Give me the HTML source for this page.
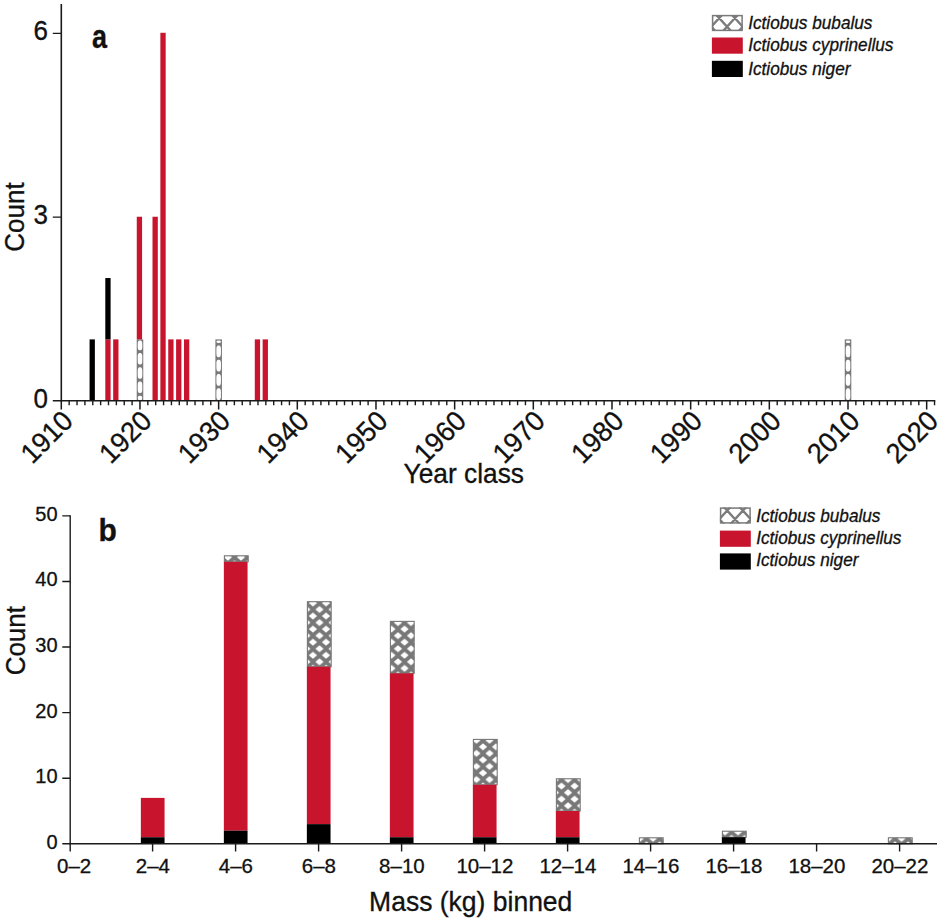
<!DOCTYPE html>
<html><head><meta charset="utf-8"><title>Ictiobus year class and mass</title>
<style>
html,body{margin:0;padding:0;background:#fff;}
body{width:941px;height:922px;overflow:hidden;font-family:"Liberation Sans",sans-serif;}
svg{display:block;}
svg text{font-family:"Liberation Sans",sans-serif;fill:#111;stroke:#111;stroke-width:0.3px;}
</style></head><body>

<svg width="941" height="922" viewBox="0 0 941 922">
<defs>
<pattern id="hb" patternUnits="userSpaceOnUse" width="13.08" height="13.08" x="312.96" y="602.96"><rect width="13.08" height="13.08" fill="#787878"/><path d="M6.54 2.99 L10.64 6.54 L6.54 10.09 L2.44 6.54 Z M0.00 -3.55 L4.10 0.00 L0.00 3.55 L-4.10 0.00 Z M13.08 -3.55 L17.18 0.00 L13.08 3.55 L8.98 0.00 Z M0.00 9.53 L4.10 13.08 L0.00 16.63 L-4.10 13.08 Z M13.08 9.53 L17.18 13.08 L13.08 16.63 L8.98 13.08 Z " fill="#fff"/></pattern>
</defs>
<rect width="941" height="922" fill="#fff"/>
<g id="chartA">
<rect x="89.57" y="339.38" width="5.3" height="61.32" fill="#000000"/>
<rect x="105.30" y="339.38" width="5.3" height="61.32" fill="#c8152d"/>
<rect x="105.30" y="278.06" width="5.3" height="61.32" fill="#000000"/>
<rect x="113.17" y="339.38" width="5.3" height="61.32" fill="#c8152d"/>
<rect x="136.72" y="339.38" width="6.55" height="61.32" fill="#7a7a7a"/><rect x="137.72" y="340.38" width="4.55" height="9.92" rx="1.9" ry="3.60" fill="#fff"/><rect x="137.72" y="352.90" width="4.55" height="11.65" rx="1.9" ry="3.60" fill="#fff"/><rect x="137.72" y="367.15" width="4.55" height="11.65" rx="1.9" ry="3.60" fill="#fff"/><rect x="137.72" y="381.40" width="4.55" height="11.65" rx="1.9" ry="3.60" fill="#fff"/><rect x="137.72" y="395.65" width="4.55" height="4.85" rx="1.9" ry="2.42" fill="#fff"/>
<rect x="136.77" y="216.74" width="5.3" height="122.64" fill="#c8152d"/>
<rect x="152.50" y="216.74" width="5.3" height="183.96" fill="#c8152d"/>
<rect x="160.37" y="32.78" width="5.3" height="367.92" fill="#c8152d"/>
<rect x="168.24" y="339.38" width="5.3" height="61.32" fill="#c8152d"/>
<rect x="176.10" y="339.38" width="5.3" height="61.32" fill="#c8152d"/>
<rect x="183.97" y="339.38" width="5.3" height="61.32" fill="#c8152d"/>
<rect x="215.39" y="339.38" width="6.55" height="61.32" fill="#7a7a7a"/><rect x="216.39" y="340.38" width="4.55" height="2.52" rx="1.9" ry="1.26" fill="#fff"/><rect x="216.39" y="345.50" width="4.55" height="11.65" rx="1.9" ry="3.60" fill="#fff"/><rect x="216.39" y="359.75" width="4.55" height="11.65" rx="1.9" ry="3.60" fill="#fff"/><rect x="216.39" y="374.00" width="4.55" height="11.65" rx="1.9" ry="3.60" fill="#fff"/><rect x="216.39" y="388.25" width="4.55" height="11.65" rx="1.9" ry="3.60" fill="#fff"/>
<rect x="254.78" y="339.38" width="5.3" height="61.32" fill="#c8152d"/>
<rect x="262.64" y="339.38" width="5.3" height="61.32" fill="#c8152d"/>
<rect x="844.75" y="339.38" width="6.55" height="61.32" fill="#7a7a7a"/><rect x="845.75" y="340.38" width="4.55" height="2.52" rx="1.9" ry="1.26" fill="#fff"/><rect x="845.75" y="345.50" width="4.55" height="11.65" rx="1.9" ry="3.60" fill="#fff"/><rect x="845.75" y="359.75" width="4.55" height="11.65" rx="1.9" ry="3.60" fill="#fff"/><rect x="845.75" y="374.00" width="4.55" height="11.65" rx="1.9" ry="3.60" fill="#fff"/><rect x="845.75" y="388.25" width="4.55" height="11.65" rx="1.9" ry="3.60" fill="#fff"/>
<path d="M61.3 4 V401.5" stroke="#1a1a1a" stroke-width="1.6" fill="none"/>
<path d="M52.8 400.8 H935.3" stroke="#1a1a1a" stroke-width="1.6" fill="none"/>
<path d="M52.8 217.10 H61.3 M52.8 33.40 H61.3 " stroke="#1a1a1a" stroke-width="1.4" fill="none"/>
<path d="M61.30 400.8 V409.4 M139.97 400.8 V409.4 M218.64 400.8 V409.4 M297.31 400.8 V409.4 M375.98 400.8 V409.4 M454.65 400.8 V409.4 M533.32 400.8 V409.4 M611.99 400.8 V409.4 M690.66 400.8 V409.4 M769.33 400.8 V409.4 M848.00 400.8 V409.4 M926.67 400.8 V409.4 " stroke="#1a1a1a" stroke-width="1.5" fill="none"/>
<path d="M69.17 400.8 V405.2 M77.03 400.8 V405.2 M84.90 400.8 V405.2 M92.77 400.8 V405.2 M100.63 400.8 V405.2 M108.50 400.8 V405.2 M116.37 400.8 V405.2 M124.24 400.8 V405.2 M132.10 400.8 V405.2 M147.84 400.8 V405.2 M155.70 400.8 V405.2 M163.57 400.8 V405.2 M171.44 400.8 V405.2 M179.31 400.8 V405.2 M187.17 400.8 V405.2 M195.04 400.8 V405.2 M202.91 400.8 V405.2 M210.77 400.8 V405.2 M226.51 400.8 V405.2 M234.37 400.8 V405.2 M242.24 400.8 V405.2 M250.11 400.8 V405.2 M257.98 400.8 V405.2 M265.84 400.8 V405.2 M273.71 400.8 V405.2 M281.58 400.8 V405.2 M289.44 400.8 V405.2 M305.18 400.8 V405.2 M313.04 400.8 V405.2 M320.91 400.8 V405.2 M328.78 400.8 V405.2 M336.65 400.8 V405.2 M344.51 400.8 V405.2 M352.38 400.8 V405.2 M360.25 400.8 V405.2 M368.11 400.8 V405.2 M383.85 400.8 V405.2 M391.71 400.8 V405.2 M399.58 400.8 V405.2 M407.45 400.8 V405.2 M415.31 400.8 V405.2 M423.18 400.8 V405.2 M431.05 400.8 V405.2 M438.92 400.8 V405.2 M446.78 400.8 V405.2 M462.52 400.8 V405.2 M470.38 400.8 V405.2 M478.25 400.8 V405.2 M486.12 400.8 V405.2 M493.99 400.8 V405.2 M501.85 400.8 V405.2 M509.72 400.8 V405.2 M517.59 400.8 V405.2 M525.45 400.8 V405.2 M541.19 400.8 V405.2 M549.05 400.8 V405.2 M556.92 400.8 V405.2 M564.79 400.8 V405.2 M572.65 400.8 V405.2 M580.52 400.8 V405.2 M588.39 400.8 V405.2 M596.26 400.8 V405.2 M604.12 400.8 V405.2 M619.86 400.8 V405.2 M627.72 400.8 V405.2 M635.59 400.8 V405.2 M643.46 400.8 V405.2 M651.32 400.8 V405.2 M659.19 400.8 V405.2 M667.06 400.8 V405.2 M674.93 400.8 V405.2 M682.79 400.8 V405.2 M698.53 400.8 V405.2 M706.39 400.8 V405.2 M714.26 400.8 V405.2 M722.13 400.8 V405.2 M730.00 400.8 V405.2 M737.86 400.8 V405.2 M745.73 400.8 V405.2 M753.60 400.8 V405.2 M761.46 400.8 V405.2 M777.20 400.8 V405.2 M785.06 400.8 V405.2 M792.93 400.8 V405.2 M800.80 400.8 V405.2 M808.66 400.8 V405.2 M816.53 400.8 V405.2 M824.40 400.8 V405.2 M832.27 400.8 V405.2 M840.13 400.8 V405.2 M855.87 400.8 V405.2 M863.73 400.8 V405.2 M871.60 400.8 V405.2 M879.47 400.8 V405.2 M887.33 400.8 V405.2 M895.20 400.8 V405.2 M903.07 400.8 V405.2 M910.94 400.8 V405.2 M918.80 400.8 V405.2 M934.54 400.8 V405.2 " stroke="#1a1a1a" stroke-width="1.4" fill="none"/>
<text transform="translate(47.90 407.50) scale(1.0 1.07)" font-size="26" text-anchor="end">0</text>
<text transform="translate(47.90 223.80) scale(1.0 1.07)" font-size="26" text-anchor="end">3</text>
<text transform="translate(47.90 40.10) scale(1.0 1.07)" font-size="26" text-anchor="end">6</text>
<text transform="translate(74.60 422.60) rotate(-45) scale(1.0 1.04)" font-size="27" text-anchor="end">1910</text>
<text transform="translate(153.27 422.60) rotate(-45) scale(1.0 1.04)" font-size="27" text-anchor="end">1920</text>
<text transform="translate(231.94 422.60) rotate(-45) scale(1.0 1.04)" font-size="27" text-anchor="end">1930</text>
<text transform="translate(310.61 422.60) rotate(-45) scale(1.0 1.04)" font-size="27" text-anchor="end">1940</text>
<text transform="translate(389.28 422.60) rotate(-45) scale(1.0 1.04)" font-size="27" text-anchor="end">1950</text>
<text transform="translate(467.95 422.60) rotate(-45) scale(1.0 1.04)" font-size="27" text-anchor="end">1960</text>
<text transform="translate(546.62 422.60) rotate(-45) scale(1.0 1.04)" font-size="27" text-anchor="end">1970</text>
<text transform="translate(625.29 422.60) rotate(-45) scale(1.0 1.04)" font-size="27" text-anchor="end">1980</text>
<text transform="translate(703.96 422.60) rotate(-45) scale(1.0 1.04)" font-size="27" text-anchor="end">1990</text>
<text transform="translate(782.63 422.60) rotate(-45) scale(1.0 1.04)" font-size="27" text-anchor="end">2000</text>
<text transform="translate(861.30 422.60) rotate(-45) scale(1.0 1.04)" font-size="27" text-anchor="end">2010</text>
<text transform="translate(939.97 422.60) rotate(-45) scale(1.0 1.04)" font-size="27" text-anchor="end">2020</text>
<text transform="translate(24.20 217.00) rotate(-90) scale(1.0 1.05)" font-size="26" text-anchor="middle">Count</text>
<text transform="translate(463.75 482.80) scale(1.012 1.05)" font-size="26" text-anchor="middle">Year class</text>
<text transform="translate(92.10 47.60) scale(0.9 1.094)" font-size="30" text-anchor="start" font-weight="bold">a</text>
<g><clipPath id="cp1"><rect x="711.9" y="14.9" width="30.9" height="16.2"/></clipPath><rect x="711.9" y="14.9" width="30.9" height="16.2" fill="#fff"/><path d="M689.20 -14.77 L749.20 50.97 M689.20 50.97 L749.20 -14.77 M704.90 -14.77 L764.90 50.97 M704.90 50.97 L764.90 -14.77 M697.05 -6.17 L757.05 59.57 M697.05 59.57 L757.05 -6.17 M681.35 -6.17 L741.35 59.57 M681.35 59.57 L741.35 -6.17 M712.75 -6.17 L772.75 59.57 M712.75 59.57 L772.75 -6.17 " stroke="#7c7c7c" stroke-width="2.4" fill="none" clip-path="url(#cp1)"/><rect x="712.6" y="15.6" width="29.5" height="14.799999999999999" fill="none" stroke="#7a7a7a" stroke-width="1.5"/></g>
<rect x="711.9" y="37.5" width="30.9" height="16.2" fill="#c8152d"/>
<rect x="711.9" y="60.8" width="30.9" height="16.2" fill="#000000"/>
<text transform="translate(748.20 28.60) scale(1.012 1.03)" font-size="17" text-anchor="start" font-style="italic" stroke-width="0.12">Ictiobus bubalus</text>
<text transform="translate(748.20 51.30) scale(1.012 1.03)" font-size="17" text-anchor="start" font-style="italic" stroke-width="0.12">Ictiobus cyprinellus</text>
<text transform="translate(748.20 74.60) scale(1.012 1.03)" font-size="17" text-anchor="start" font-style="italic" stroke-width="0.12">Ictiobus niger</text>
</g>
<g id="chartB">
<rect x="140.85" y="797.89" width="23.7" height="39.35" fill="#c8152d"/>
<rect x="140.85" y="837.24" width="23.7" height="6.56" fill="#000000"/>
<rect x="224.40" y="555.80" width="23.80" height="6.01" fill="url(#hb)" stroke="#787878" stroke-width="1.1"/>
<rect x="223.85" y="561.81" width="23.7" height="268.88" fill="#c8152d"/>
<rect x="223.85" y="830.68" width="23.7" height="13.12" fill="#000000"/>
<rect x="307.40" y="601.70" width="23.80" height="65.03" fill="url(#hb)" stroke="#787878" stroke-width="1.1"/>
<rect x="306.85" y="666.73" width="23.7" height="157.39" fill="#c8152d"/>
<rect x="306.85" y="824.13" width="23.7" height="19.67" fill="#000000"/>
<rect x="390.40" y="621.38" width="23.80" height="51.91" fill="url(#hb)" stroke="#787878" stroke-width="1.1"/>
<rect x="389.85" y="673.29" width="23.7" height="163.95" fill="#c8152d"/>
<rect x="389.85" y="837.24" width="23.7" height="6.56" fill="#000000"/>
<rect x="473.40" y="739.42" width="23.80" height="45.36" fill="url(#hb)" stroke="#787878" stroke-width="1.1"/>
<rect x="472.85" y="784.78" width="23.7" height="52.46" fill="#c8152d"/>
<rect x="472.85" y="837.24" width="23.7" height="6.56" fill="#000000"/>
<rect x="556.40" y="778.77" width="23.80" height="32.24" fill="url(#hb)" stroke="#787878" stroke-width="1.1"/>
<rect x="555.85" y="811.01" width="23.7" height="26.23" fill="#c8152d"/>
<rect x="555.85" y="837.24" width="23.7" height="6.56" fill="#000000"/>
<rect x="639.40" y="837.79" width="23.80" height="6.01" fill="url(#hb)" stroke="#787878" stroke-width="1.1"/>
<rect x="722.40" y="831.23" width="23.80" height="6.01" fill="url(#hb)" stroke="#787878" stroke-width="1.1"/>
<rect x="721.85" y="837.24" width="23.7" height="6.56" fill="#000000"/>
<rect x="888.40" y="837.79" width="23.80" height="6.01" fill="url(#hb)" stroke="#787878" stroke-width="1.1"/>
<path d="M70.2 515.20 V844.5" stroke="#1a1a1a" stroke-width="1.4" fill="none"/>
<path d="M62.3 843.8 H937" stroke="#1a1a1a" stroke-width="1.5" fill="none"/>
<path d="M62.3 778.22 H70.2 M62.3 712.64 H70.2 M62.3 647.06 H70.2 M62.3 581.48 H70.2 M62.3 515.90 H70.2 " stroke="#1a1a1a" stroke-width="1.4" fill="none"/>
<path d="M70.20 843.8 V851.5 M152.60 843.8 V851.5 M235.60 843.8 V851.5 M318.60 843.8 V851.5 M401.60 843.8 V851.5 M484.60 843.8 V851.5 M567.60 843.8 V851.5 M650.60 843.8 V851.5 M733.60 843.8 V851.5 M816.60 843.8 V851.5 M899.60 843.8 V851.5 " stroke="#1a1a1a" stroke-width="1.4" fill="none"/>
<text x="57.6" y="848.80" font-size="20" text-anchor="end">0</text>
<text x="57.6" y="783.22" font-size="20" text-anchor="end">10</text>
<text x="57.6" y="717.64" font-size="20" text-anchor="end">20</text>
<text x="57.6" y="652.06" font-size="20" text-anchor="end">30</text>
<text x="57.6" y="586.48" font-size="20" text-anchor="end">40</text>
<text x="57.6" y="520.90" font-size="20" text-anchor="end">50</text>
<text x="74.10" y="873" font-size="20.5" text-anchor="middle">0–2</text>
<text x="152.90" y="873" font-size="20.5" text-anchor="middle">2–4</text>
<text x="235.90" y="873" font-size="20.5" text-anchor="middle">4–6</text>
<text x="318.90" y="873" font-size="20.5" text-anchor="middle">6–8</text>
<text x="401.90" y="873" font-size="20.5" text-anchor="middle">8–10</text>
<text x="484.90" y="873" font-size="20.5" text-anchor="middle">10–12</text>
<text x="567.90" y="873" font-size="20.5" text-anchor="middle">12–14</text>
<text x="650.90" y="873" font-size="20.5" text-anchor="middle">14–16</text>
<text x="733.90" y="873" font-size="20.5" text-anchor="middle">16–18</text>
<text x="816.90" y="873" font-size="20.5" text-anchor="middle">18–20</text>
<text x="899.90" y="873" font-size="20.5" text-anchor="middle">20–22</text>
<text transform="translate(24.80 640.70) rotate(-90) scale(1.0 1.07)" font-size="26" text-anchor="middle">Count</text>
<text transform="translate(470.70 911.20) scale(1.02 1.04)" font-size="26" text-anchor="middle">Mass (kg) binned</text>
<text transform="translate(98.50 540.70) scale(1.0 1.03)" font-size="30" text-anchor="start" font-weight="bold">b</text>
<g><clipPath id="cp2"><rect x="719.9" y="507.4" width="30.9" height="16.2"/></clipPath><rect x="719.9" y="507.4" width="30.9" height="16.2" fill="#fff"/><path d="M697.20 477.73 L757.20 543.47 M697.20 543.47 L757.20 477.73 M712.90 477.73 L772.90 543.47 M712.90 543.47 L772.90 477.73 M705.05 486.33 L765.05 552.07 M705.05 552.07 L765.05 486.33 M689.35 486.33 L749.35 552.07 M689.35 552.07 L749.35 486.33 M720.75 486.33 L780.75 552.07 M720.75 552.07 L780.75 486.33 " stroke="#7c7c7c" stroke-width="2.4" fill="none" clip-path="url(#cp2)"/><rect x="720.6" y="508.09999999999997" width="29.5" height="14.799999999999999" fill="none" stroke="#7a7a7a" stroke-width="1.5"/></g>
<rect x="719.9" y="530.6" width="30.9" height="16.2" fill="#c8152d"/>
<rect x="719.9" y="553.4" width="30.9" height="16.2" fill="#000000"/>
<text transform="translate(756.20 522.10) scale(1.012 1.03)" font-size="17" text-anchor="start" font-style="italic" stroke-width="0.12">Ictiobus bubalus</text>
<text transform="translate(756.20 544.20) scale(1.012 1.03)" font-size="17" text-anchor="start" font-style="italic" stroke-width="0.12">Ictiobus cyprinellus</text>
<text transform="translate(756.20 566.40) scale(1.012 1.03)" font-size="17" text-anchor="start" font-style="italic" stroke-width="0.12">Ictiobus niger</text>
</g>
</svg>
</body></html>
